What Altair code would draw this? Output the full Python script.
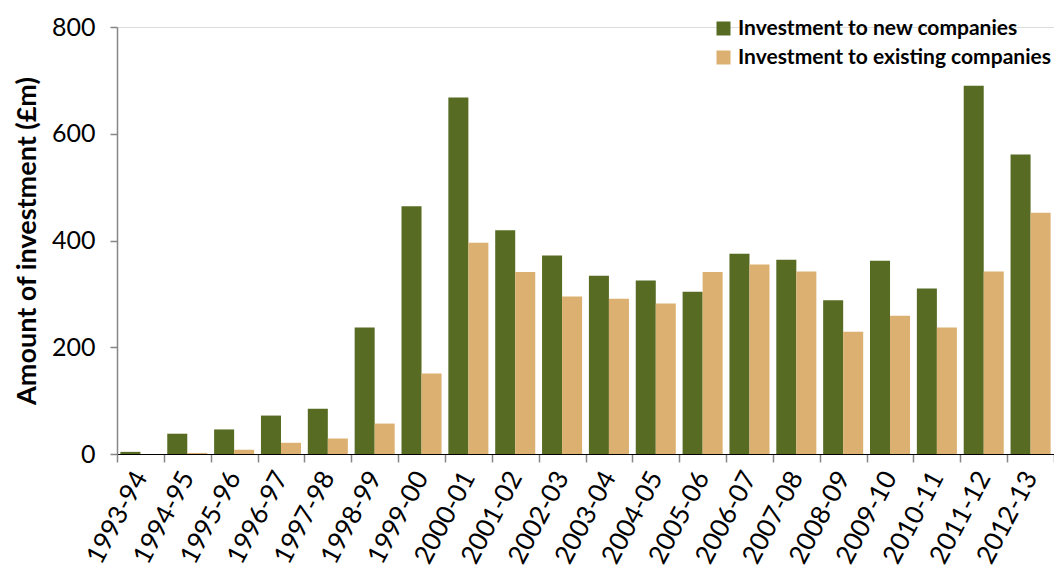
import altair as alt
import pandas as pd

years = ["1993-94", "1994-95", "1995-96", "1996-97", "1997-98", "1998-99",
         "1999-00", "2000-01", "2001-02", "2002-03", "2003-04", "2004-05",
         "2005-06", "2006-07", "2007-08", "2008-09", "2009-10", "2010-11",
         "2011-12", "2012-13"]
new_companies = [4, 38, 46, 72, 85, 237, 464, 668, 419, 372, 334, 325,
                 304, 375, 364, 288, 362, 310, 690, 561]
existing_companies = [0, 2, 8, 21, 29, 57, 151, 396, 341, 295, 291, 282,
                      341, 355, 342, 229, 259, 237, 342, 452]
series_names = ["Investment to new companies", "Investment to existing companies"]
series_colors = ["#586B22", "#DCB070"]
y_ticks = [0, 200, 400, 600, 800]

rows = []
for i, yr in enumerate(years):
    rows.append({"year": yr, "series": series_names[0], "value": new_companies[i]})
    rows.append({"year": yr, "series": series_names[1], "value": existing_companies[i]})
df = pd.DataFrame(rows)

FONT = "Lato"

chart = alt.Chart(df).mark_bar().encode(
    x=alt.X("year:N", sort=years,
            scale=alt.Scale(paddingInner=0, paddingOuter=0),
            axis=alt.Axis(title=None, labelAngle=-62, labelAlign="right",
                          labelBaseline="middle", labelFont=FONT, labelFontSize=26,
                          labelColor="#000000", labelPadding=11,
                          tickBand="extent", tickSize=8, tickColor="#868686",
                          tickWidth=1.5, domainColor="#000000", domainWidth=1.2,
                          grid=False)),
    xOffset=alt.XOffset("series:N", sort=series_names,
                        scale=alt.Scale(paddingInner=0, paddingOuter=0.17)),
    y=alt.Y("value:Q",
            scale=alt.Scale(domain=[0, 800], nice=False),
            axis=alt.Axis(title="Amount of investment (£m)", values=y_ticks,
                          titleFont=FONT, titleFontSize=27, titleFontWeight="bold",
                          titleColor="#000000", titlePadding=10,
                          labelFont=FONT, labelFontSize=25, labelColor="#000000",
                          labelPadding=15, tickSize=7, tickColor="#868686",
                          tickWidth=1.5, domainColor="#868686", domainWidth=1.5,
                          grid=False)),
    color=alt.Color("series:N", sort=series_names,
                    scale=alt.Scale(domain=series_names, range=series_colors),
                    legend=alt.Legend(title=None, orient="none", legendX=596,
                                      legendY=-9, symbolType="square",
                                      symbolSize=196, symbolStrokeWidth=0,
                                      labelFont=FONT, labelFontSize=21,
                                      labelFontWeight="bold", labelColor="#000000",
                                      labelOffset=4, rowPadding=7, labelLimit=0)),
).properties(
    width=937, height=427,
    autosize=alt.AutoSizeParams(type="none"),
    padding={"left": 117, "top": 27, "right": 0, "bottom": 112},
).configure_view(stroke=None).configure(background="white")

chart.save("out.html", embed_options={"renderer": "svg", "actions": False})
